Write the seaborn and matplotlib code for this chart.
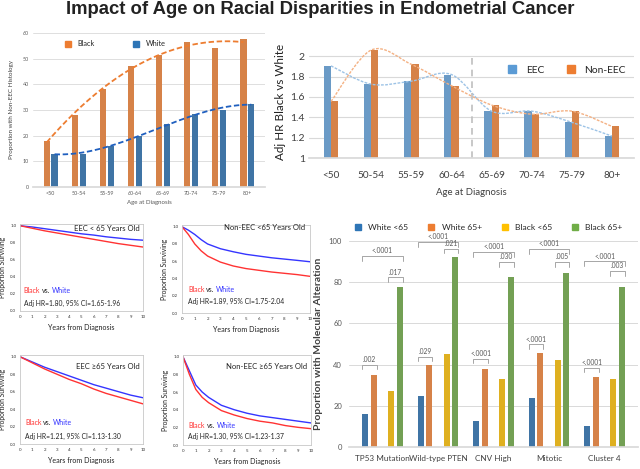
import numpy as np
import pandas as pd
import matplotlib
matplotlib.use("Agg")
import matplotlib.pyplot as plt
import seaborn as sns
from matplotlib.path import Path
from matplotlib.patches import PathPatch
from matplotlib.lines import Line2D

# ---------------- data ----------------
ages = ["<50", "50-54", "55-59", "60-64", "65-69", "70-74", "75-79", "80+"]
black_nonEEC_pct = [18, 28, 38, 47, 51.5, 56.5, 54, 57.5]
white_nonEEC_pct = [13, 13, 16, 20, 24.5, 28.5, 30, 32.5]

hr_eec = [1.905, 1.725, 1.755, 1.82, 1.46, 1.46, 1.35, 1.215]
hr_noneec = [1.555, 2.06, 1.92, 1.71, 1.52, 1.43, 1.46, 1.31]

years = [0, 0.5, 1, 1.5, 2, 3, 4, 5, 6, 7, 8, 9, 10]
eec_lt65_black = [1, 0.985, 0.97, 0.955, 0.94, 0.915, 0.89, 0.865, 0.84, 0.815, 0.79, 0.77, 0.75]
eec_lt65_white = [1, 0.992, 0.985, 0.975, 0.965, 0.945, 0.925, 0.905, 0.89, 0.87, 0.855, 0.84, 0.83]
non_lt65_black = [1, 0.91, 0.80, 0.72, 0.66, 0.59, 0.545, 0.515, 0.495, 0.475, 0.46, 0.445, 0.425]
non_lt65_white = [1, 0.96, 0.91, 0.85, 0.80, 0.745, 0.71, 0.68, 0.66, 0.64, 0.625, 0.61, 0.594]
eec_ge65_black = [1, 0.965, 0.93, 0.895, 0.86, 0.80, 0.74, 0.69, 0.63, 0.58, 0.54, 0.50, 0.46]
eec_ge65_white = [1, 0.97, 0.94, 0.91, 0.88, 0.83, 0.78, 0.73, 0.68, 0.64, 0.60, 0.56, 0.53]
non_ge65_black = [1, 0.80, 0.63, 0.54, 0.48, 0.39, 0.34, 0.30, 0.27, 0.25, 0.22, 0.20, 0.185]
non_ge65_white = [1, 0.84, 0.68, 0.60, 0.54, 0.45, 0.40, 0.36, 0.33, 0.31, 0.29, 0.27, 0.25]

alterations = ["TP53 Mutation", "Wild-type PTEN", "CNV High", "Mitotic", "Cluster 4"]
white_lt65 = [16.1, 24.9, 12.7, 23.7, 10.2]
white_ge65 = [35.1, 40.0, 37.9, 45.5, 34.0]
black_lt65 = [27.3, 45.2, 33.0, 42.0, 33.0]
black_ge65 = [77.9, 92.3, 82.6, 84.7, 77.7]
p_all = ["<.0001", "<.0001", "<.0001", "<.0001", "<.0001"]
p_black = [".017", ".021", ".030", ".005", ".003"]
p_white = [".002", ".029", "<.0001", "<.0001", "<.0001"]

# ---------------- style ----------------
sns.set_theme(style="white")
plt.rcParams['font.family'] = ['Lato', 'DejaVu Sans']

ORANGE = "#ED7D31"
BLUE_D = "#2E75B6"
BLUE_L = "#5B9BD5"
YELLOW = "#FFC000"
GREEN = "#70AD47"
RED = "#FF3333"
BLUE_S = "#3535FF"
GRID = "#D9D9D9"
TXT = "#404040"

W, H = 640, 469
fig = plt.figure(figsize=(W / 100, H / 100), dpi=100)


def px_axes(l, t, r, b):
    return fig.add_axes([l / W, 1 - b / H, (r - l) / W, (b - t) / H])


fig.text(0.5, 1 - 10 / H, "Impact of Age on Racial Disparities in Endometrial Cancer",
         ha="center", va="center", fontsize=13.3, fontweight="bold",
         family=["Liberation Sans", "DejaVu Sans"], color="#222222")

# ---------------- top-left ----------------
ax1 = px_axes(33, 33, 265, 187)
df1 = pd.DataFrame({"age": ages * 2,
                    "race": ["Black"] * len(ages) + ["White"] * len(ages),
                    "pct": black_nonEEC_pct + white_nonEEC_pct})
sns.barplot(data=df1, x="age", y="pct", hue="race", hue_order=["Black", "White"],
            palette={"Black": ORANGE, "White": BLUE_D}, width=0.56, gap=0.2,
            legend=False, ax=ax1, linewidth=0)
ax1.set_ylim(0, 60)
ax1.set_yticks(range(0, 61, 10))
ax1.yaxis.grid(True, color=GRID, lw=0.6)
ax1.set_axisbelow(True)
for s in ["top", "right", "left"]:
    ax1.spines[s].set_visible(False)
ax1.spines["bottom"].set_color(GRID)
ax1.tick_params(labelsize=3.9, colors="#595959", length=0, pad=3)
ax1.set_xlabel("Age at Diagnosis", fontsize=4.4, color="#595959", labelpad=3)
ax1.set_ylabel("Proportion with Non-EEC Histology", fontsize=4.5, color=TXT, labelpad=6)
xi = np.arange(len(ages))
xs = np.linspace(0, len(ages) - 1, 200)
for vals, off, col in [(black_nonEEC_pct, -0.14, ORANGE), (white_nonEEC_pct, 0.14, "#1F5FBF")]:
    coef = np.polyfit(xi, vals, 3)
    ax1.plot(xs + off, np.polyval(coef, xs), color=col, lw=1.3, ls=(0, (3, 1.5)))
fig.legend(handles=[Line2D([], [], marker="s", ls="", color=ORANGE, markersize=3.8),
                    Line2D([], [], marker="s", ls="", color=BLUE_D, markersize=3.8)],
           labels=["Black", "White"], loc="center left",
           bbox_to_anchor=(58 / W, 1 - 44 / H), ncol=2, fontsize=5.3, frameon=False,
           columnspacing=4.6, handletextpad=0.3, borderaxespad=0)

# ---------------- top-right ----------------
ax2 = px_axes(309, 46, 634, 158)
df2 = pd.DataFrame({"age": ages * 2,
                    "hist": ["EEC"] * len(ages) + ["Non-EEC"] * len(ages),
                    "hr": hr_eec + hr_noneec})
sns.barplot(data=df2, x="age", y="hr", hue="hist", hue_order=["EEC", "Non-EEC"],
            palette={"EEC": BLUE_L, "Non-EEC": ORANGE}, width=0.36, gap=0,
            legend=False, ax=ax2, linewidth=0)
ax2.set_ylim(1.0, 2.1)
yt = [1.0, 1.2, 1.4, 1.6, 1.8, 2.0]
ax2.set_yticks(yt)
ax2.set_yticklabels(["1", "1.2", "1.4", "1.6", "1.8", "2"])
ax2.yaxis.grid(True, color=GRID, lw=0.8)
ax2.set_axisbelow(True)
for s in ["top", "right", "left"]:
    ax2.spines[s].set_visible(False)
ax2.spines["bottom"].set_color(GRID)
ax2.tick_params(axis="y", labelsize=7.5, colors=TXT, length=0, pad=3)
ax2.tick_params(axis="x", labelsize=7.2, colors=TXT, length=0, pad=9)
ax2.set_xlabel("Age at Diagnosis", fontsize=6.9, color=TXT, labelpad=6)
ax2.set_ylabel("Adj HR Black vs White", fontsize=8.4, color="#222222", labelpad=3)
ax2.plot([3.5, 3.5], [1.0, 2.02], color="#BFBFBF", lw=1.2, ls=(0, (4, 3)))


def smooth_patch(xv, yv, color):
    pts = np.column_stack([xv, yv]).astype(float)
    n = len(pts)
    verts = [pts[0]]
    codes = [Path.MOVETO]
    for i in range(n - 1):
        p0 = pts[max(i - 1, 0)]
        p1 = pts[i]
        p2 = pts[i + 1]
        p3 = pts[min(i + 2, n - 1)]
        verts += [p1 + (p2 - p0) / 6, p2 - (p3 - p1) / 6, p2]
        codes += [Path.CURVE4] * 3
    return PathPatch(Path(verts, codes), fill=False, edgecolor=color, lw=1.0,
                     ls=(0, (2, 1)))


ax2.add_patch(smooth_patch(xi, hr_eec, "#9DC3E6"))
ax2.add_patch(smooth_patch(xi, hr_noneec, "#F4B183"))
fig.legend(handles=[Line2D([], [], marker="s", ls="", color=BLUE_L, markersize=5.5),
                    Line2D([], [], marker="s", ls="", color=ORANGE, markersize=5.5)],
           labels=["EEC", "Non-EEC"], loc="center left",
           bbox_to_anchor=(498 / W, 1 - 70 / H), ncol=2, fontsize=7.4, frameon=False,
           columnspacing=1.6, handletextpad=0.3, borderaxespad=0)

# ---------------- survival panels ----------------
panels = [
    ((20, 224, 143, 311), eec_lt65_black, eec_lt65_white, "EEC < 65 Years Old",
     "Adj HR=1.80, 95% CI=1.65-1.96", (0.976, 0.95), (0.03, 0.24, 0.09)),
    ((182, 225, 310, 313), non_lt65_black, non_lt65_white, "Non-EEC <65 Years Old",
     "Adj HR=1.89, 95% CI=1.75-2.04", (0.96, 0.966), (0.047, 0.27, 0.13)),
    ((20, 355, 143, 444), eec_ge65_black, eec_ge65_white, "EEC \u226565 Years Old",
     "Adj HR=1.21, 95% CI=1.13-1.30", (0.976, 0.876), (0.04, 0.236, 0.09)),
    ((183, 355, 311, 445), non_ge65_black, non_ge65_white, "Non-EEC \u226565 Years Old",
     "Adj HR=1.30, 95% CI=1.23-1.37", (0.969, 0.867), (0.04, 0.22, 0.09)),
]
for box, red, blue, title, hr, tpos, bpos in panels:
    ax = px_axes(*box)
    sns.lineplot(x=years, y=blue, color=BLUE_S, lw=1.0, ax=ax)
    sns.lineplot(x=years, y=red, color=RED, lw=1.0, ax=ax)
    ax.set_xlim(0, 10)
    ax.set_ylim(0, 1.02)
    ax.set_xticks(range(0, 11))
    ax.set_yticks([0, 0.2, 0.4, 0.6, 0.8, 1.0])
    ax.set_yticklabels(["0.0", "0.2", "0.4", "0.6", "0.8", "1.0"])
    for s in ax.spines.values():
        s.set_color("#C8C8C8")
        s.set_linewidth(0.6)
    ax.tick_params(labelsize=3.2, colors="#333333", length=1.2, width=0.4, pad=1.5)
    ax.set_xlabel("Years from Diagnosis", fontsize=5.1, color="#222222", labelpad=4)
    ax.set_ylabel("Proportion Surviving", fontsize=4.9, color="#222222", labelpad=3)
    ax.text(tpos[0], tpos[1], title, transform=ax.transAxes, ha="right", va="center",
            fontsize=5.5, color="#222222")
    t1 = ax.text(bpos[0], bpos[1], "Black", transform=ax.transAxes, ha="left",
                 va="center", fontsize=5, color=RED)
    t2 = ax.annotate("vs.", xy=(1, 0), xycoords=t1, xytext=(1.3, 0),
                     textcoords="offset points", ha="left", va="bottom",
                     fontsize=5, color="#222222")
    ax.annotate("White", xy=(1, 0), xycoords=t2, xytext=(1.3, 0),
                textcoords="offset points", ha="left", va="bottom",
                fontsize=5, color=BLUE_S)
    ax.text(bpos[0], bpos[2], hr, transform=ax.transAxes, ha="left", va="center",
            fontsize=4.9, color="#222222")

# ---------------- bottom-right ----------------
ax4 = px_axes(349, 241, 638, 447)
series_names = ["White <65", "White 65+", "Black <65", "Black 65+"]
series_vals = [white_lt65, white_ge65, black_lt65, black_ge65]
df4 = pd.DataFrame({"alt": alterations * 4,
                    "grp": sum([[n] * len(alterations) for n in series_names], []),
                    "val": sum(series_vals, [])})
hue_order = ["White <65", "White 65+", " ", "Black <65", "Black 65+"]
pal4 = {"White <65": BLUE_D, "White 65+": ORANGE, " ": "white",
        "Black <65": YELLOW, "Black 65+": GREEN}
GW, GAP = 0.78, 0.3
sns.barplot(data=df4, x="alt", y="val", hue="grp", hue_order=hue_order, palette=pal4,
            width=GW, gap=GAP, legend=False, ax=ax4, linewidth=0)
ax4.set_ylim(0, 100)
ax4.set_yticks(range(0, 101, 20))
ax4.yaxis.grid(True, color=GRID, lw=0.7)
ax4.set_axisbelow(True)
for s in ["top", "right", "left"]:
    ax4.spines[s].set_visible(False)
ax4.spines["bottom"].set_color(GRID)
ax4.tick_params(axis="y", labelsize=5.5, colors="#595959", length=0, pad=5)
ax4.tick_params(axis="x", labelsize=5.9, colors=TXT, length=0, pad=6)
ax4.set_xlabel("")
ax4.set_ylabel("Proportion with Molecular Alteration", fontsize=7.5, fontweight="bold",
               color=TXT, labelpad=4)

slot = GW / 5
half = slot * (1 - GAP) / 2
centers = {k: (k - 2) * slot for k in range(5)}
br_all_y = [92.7, 99.5, 94.6, 96.1, 90.2]
br_black_y = [82.4, 96.3, 89.8, 89.8, 85.4]
br_white_y = [40.0, 43.9, 42.9, 49.8, 38.5]


def bracket(x0, x1, y, label):
    ax4.plot([x0, x0, x1, x1], [y - 2.2, y, y, y - 2.2], color="#A6A6A6", lw=0.7,
             clip_on=False)
    ax4.text((x0 + x1) / 2, y + 0.8, label, ha="center", va="bottom", fontsize=4.8,
             color="#595959", clip_on=False)


for i in range(len(alterations)):
    bracket(i + centers[0] - half, i + centers[4] + half, br_all_y[i], p_all[i])
    bracket(i + centers[3] - half, i + centers[4] + half, br_black_y[i], p_black[i])
    bracket(i + centers[0] - half, i + centers[1] + half, br_white_y[i], p_white[i])

fig.legend(handles=[Line2D([], [], marker="s", ls="", color=c, markersize=4.8)
                    for c in [BLUE_D, ORANGE, YELLOW, GREEN]],
           labels=series_names, loc="center", bbox_to_anchor=(486 / W, 1 - 227 / H),
           ncol=4, fontsize=6.1, frameon=False, columnspacing=1.7, handletextpad=0.2,
           borderaxespad=0)

fig.savefig("out.png", dpi=100)
